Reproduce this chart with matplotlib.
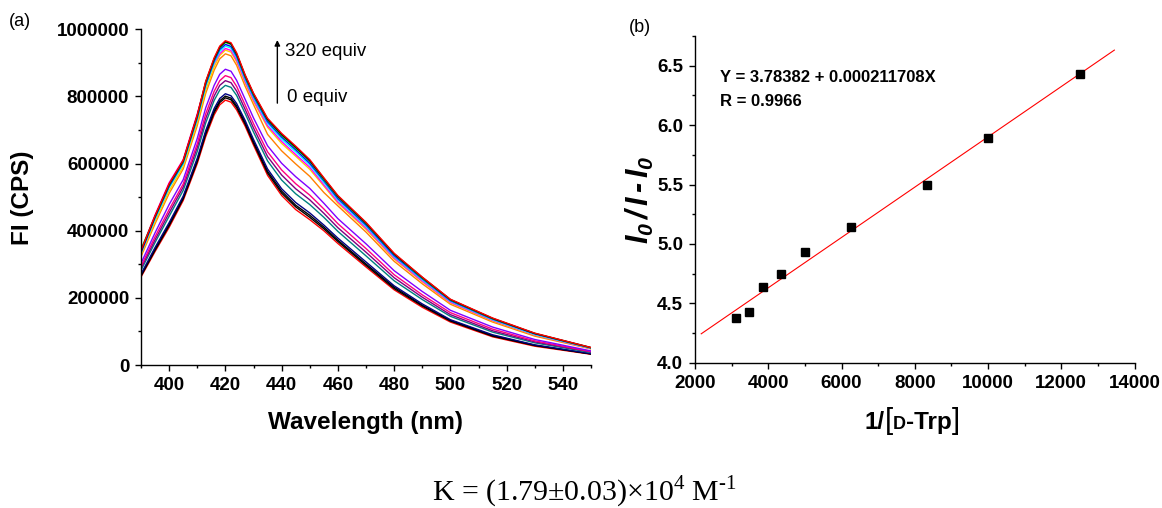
import matplotlib
matplotlib.use('Agg')
import matplotlib.pyplot as plt
from matplotlib import ticker

plt.rcParams['font.family'] = ['Liberation Sans', 'DejaVu Sans']
plt.rcParams['mathtext.fontset'] = 'custom'
plt.rcParams['mathtext.rm'] = 'Liberation Sans:italic:bold'
plt.rcParams['mathtext.it'] = 'Liberation Sans:italic:bold'
plt.rcParams['mathtext.bf'] = 'Liberation Sans:italic:bold'

# emission spectra, intensity in thousands of CPS
wavelength = [390, 395, 400, 405, 410, 413, 416, 418, 420, 422, 424, 427, 430,
              435, 440, 445, 450, 455, 460, 470, 480, 490, 500, 515, 530, 550]

spec_red_low = [262, 338, 410, 490, 600, 680, 745, 775, 789, 783, 760, 712, 655,
                565, 505, 463, 433, 400, 362, 292, 224, 172, 128, 84, 56, 32]
spec_black_a = [265, 342, 415, 495, 606, 687, 752, 782, 796, 790, 767, 718, 661,
                572, 512, 471, 440, 406, 368, 297, 228, 176, 131, 86, 58, 33]
spec_black_b = [267, 345, 419, 498, 610, 692, 757, 787, 801, 795, 772, 723, 666,
                577, 518, 476, 446, 411, 372, 301, 232, 178, 133, 88, 59, 33]
spec_navy = [271, 350, 424, 503, 616, 698, 764, 794, 808, 802, 779, 729, 672,
             584, 525, 484, 453, 417, 378, 307, 236, 182, 135, 90, 60, 34]
spec_teal = [282, 365, 443, 520, 636, 721, 788, 819, 833, 827, 803, 750, 694,
             608, 551, 510, 478, 440, 398, 325, 251, 195, 145, 98, 66, 37]
spec_purple = [288, 373, 453, 530, 648, 734, 801, 833, 847, 841, 816, 762, 706,
               621, 566, 525, 492, 452, 409, 336, 260, 202, 150, 102, 69, 39]
spec_pink = [294, 382, 463, 539, 659, 748, 815, 847, 862, 856, 830, 775, 719,
             635, 581, 540, 506, 465, 421, 347, 269, 209, 156, 107, 72, 40]
spec_violet = [303, 394, 478, 552, 675, 766, 833, 866, 881, 875, 848, 792, 736,
               653, 601, 561, 526, 482, 436, 361, 281, 219, 163, 113, 76, 42]
spec_orange = [323, 421, 511, 584, 713, 809, 878, 912, 927, 921, 893, 831, 776,
               687, 638, 599, 562, 514, 474, 396, 309, 242, 181, 128, 86, 48]
spec_yellow = [328, 428, 519, 591, 722, 819, 888, 922, 938, 932, 903, 841, 785,
               708, 660, 622, 583, 533, 482, 404, 316, 248, 185, 131, 89, 49]
spec_magenta = [342, 447, 543, 612, 748, 837, 898, 927, 943, 937, 908, 845, 790,
                713, 666, 627, 589, 537, 486, 408, 319, 250, 187, 133, 90, 49]
spec_cyan = [333, 435, 528, 599, 732, 830, 900, 934, 950, 944, 915, 851, 796,
             720, 673, 635, 596, 544, 492, 413, 323, 254, 190, 135, 91, 50]
spec_blue = [335, 439, 532, 603, 736, 835, 905, 940, 955, 949, 920, 856, 801,
             725, 679, 641, 601, 549, 496, 417, 326, 257, 192, 137, 93, 51]
spec_green = [345, 442, 536, 606, 741, 840, 910, 945, 961, 955, 925, 860, 805,
              730, 684, 646, 607, 553, 501, 421, 330, 259, 194, 138, 94, 51]
spec_black_top = [339, 443, 538, 608, 743, 843, 912, 947, 963, 957, 927, 863, 808,
                  732, 687, 649, 609, 556, 503, 423, 331, 261, 195, 139, 94, 52]
spec_red_top = [340, 445, 540, 610, 745, 845, 915, 950, 966, 960, 930, 865, 810,
                735, 690, 652, 612, 558, 505, 425, 333, 262, 196, 140, 95, 52]

spectra = [
    (spec_red_low, '#FF0000'), (spec_black_a, '#000000'),
    (spec_black_b, '#000000'), (spec_navy, '#000080'),
    (spec_teal, '#008080'), (spec_purple, '#800080'),
    (spec_pink, '#FF0080'), (spec_violet, '#8000FF'),
    (spec_orange, '#FF8000'), (spec_yellow, '#FFD000'),
    (spec_magenta, '#FF00FF'), (spec_cyan, '#00FFFF'),
    (spec_blue, '#0000FF'), (spec_green, '#00E000'),
    (spec_black_top, '#000000'), (spec_red_top, '#FF0000'),
]

# double reciprocal plot
inv_conc = [3125, 3472, 3846, 4348, 5000, 6250, 8333, 10000, 12500]
ratio = [4.38, 4.43, 4.64, 4.75, 4.93, 5.14, 5.50, 5.89, 6.43]
fit_a = 3.78382
fit_b = 0.000211708
fit_x = [2170, 13450]

W, H = 1162, 508
fig = plt.figure(figsize=(W / 100, H / 100), dpi=100)

label_font = dict(fontsize=17.5, fontweight='bold')


def style_axes(ax):
    for side in ('top', 'right'):
        ax.spines[side].set_visible(False)
    for side in ('left', 'bottom'):
        ax.spines[side].set_linewidth(1.0)
    ax.tick_params(which='major', direction='out', length=4.5, width=1.0, pad=4)
    ax.tick_params(which='minor', direction='out', length=2.3, width=1.0)
    for lab in ax.get_xticklabels() + ax.get_yticklabels():
        lab.set_fontsize(13.5)
        lab.set_fontweight('bold')


# ---- (a) spectra ----
ax1 = fig.add_axes([141 / W, 1 - 365 / H, 450 / W, 335.7 / H])
for vals, col in spectra:
    ax1.plot(wavelength, [v * 1000 for v in vals], color=col, lw=1.0)
ax1.set_xlim(390, 550)
ax1.set_ylim(0, 1000000)
ax1.xaxis.set_minor_locator(ticker.MultipleLocator(10))
ax1.set_xticks(range(400, 541, 20))
ax1.yaxis.set_major_locator(ticker.MultipleLocator(200000))
ax1.yaxis.set_minor_locator(ticker.MultipleLocator(100000))
ax1.yaxis.set_major_formatter(ticker.FuncFormatter(lambda v, p: '%d' % v))
style_axes(ax1)

ax1.annotate('', xy=(0.303, 0.968), xytext=(0.303, 0.780),
             xycoords='axes fraction',
             arrowprops=dict(arrowstyle='-|>', color='black', lw=1.0,
                             mutation_scale=8, shrinkA=0, shrinkB=0))
ax1.text(0.32, 0.935, '320 equiv', transform=ax1.transAxes,
         fontsize=13.5, ha='left', va='center')
ax1.text(0.324, 0.798, '0 equiv', transform=ax1.transAxes,
         fontsize=13.5, ha='left', va='center')

fig.text(23 / W, 1 - 198 / H, 'FI (CPS)', rotation=90, ha='center',
         va='center', **label_font)
fig.text(366 / W, 1 - 422 / H, 'Wavelength (nm)', ha='center', va='center',
         **label_font)
fig.text(20 / W, 1 - 21 / H, '(a)', ha='center', va='center', fontsize=13)

# ---- (b) linear fit ----
ax2 = fig.add_axes([695 / W, 1 - 362.7 / H, 439.5 / W, 326.7 / H])
ax2.plot(fit_x, [fit_a + fit_b * x for x in fit_x], color='#FF0000', lw=0.8)
ax2.plot(inv_conc, ratio, ls='none', marker='s', ms=5.5, color='black')
ax2.set_xlim(2000, 14000)
ax2.set_ylim(4.0, 6.75)
ax2.xaxis.set_major_locator(ticker.MultipleLocator(2000))
ax2.xaxis.set_minor_locator(ticker.MultipleLocator(1000))
ax2.yaxis.set_major_locator(ticker.MultipleLocator(0.5))
ax2.yaxis.set_minor_locator(ticker.MultipleLocator(0.25))
ax2.xaxis.set_major_formatter(ticker.FuncFormatter(lambda v, p: '%d' % v))
ax2.yaxis.set_major_formatter(ticker.FormatStrFormatter('%.1f'))
style_axes(ax2)

ax2.text(0.057, 0.8745, 'Y = 3.78382 + 0.000211708X', transform=ax2.transAxes,
         fontsize=12, fontweight='bold', ha='left', va='center')
ax2.text(0.057, 0.801, 'R = 0.9966', transform=ax2.transAxes,
         fontsize=12, fontweight='bold', ha='left', va='center')

fig.text(640 / W, 1 - 200 / H, r'$I_0\,/\,I\,$-$\,I_0$', rotation=90,
         ha='center', va='center', fontsize=22, fontweight='bold',
         fontstyle='italic')
fig.text(640 / W, 1 - 27 / H, '(b)', ha='center', va='center', fontsize=13)

# x label built from pieces so the D can be set in small capitals
pieces = [
    ('1/', dict(fontsize=17.5, fontweight='bold')),
    ('[', dict(fontsize=21, fontweight='normal')),
    ('D', dict(fontsize=13, fontweight='bold')),
    ('-Trp', dict(fontsize=17.5, fontweight='bold')),
    (']', dict(fontsize=21, fontweight='normal')),
]
texts = [fig.text(0, 1 - 429 / H, s, ha='left', va='baseline', **kw)
         for s, kw in pieces]
fig.canvas.draw()
rend = fig.canvas.get_renderer()
widths = [t.get_window_extent(rend).width for t in texts]
x = 912 - sum(widths) / 2
for t, w in zip(texts, widths):
    t.set_x(x / W)
    x += w

# binding constant
fig.text(584 / W, 1 - 500 / H,
         'K = (1.79\u00b10.03)\u00d710$^{\\mathregular{4}}$ '
         'M$^{\\mathregular{\u20101}}$',
         ha='center', va='baseline', fontsize=21.5, family='Liberation Serif')

fig.savefig('out.png', dpi=100)
